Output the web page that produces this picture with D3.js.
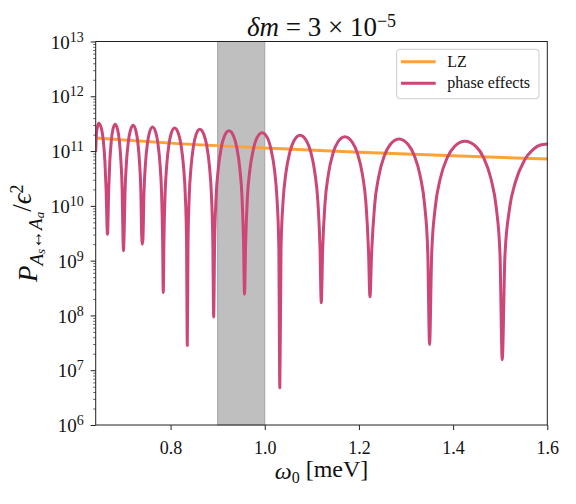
<!DOCTYPE html>
<html>
<head>
<meta charset="utf-8">
<script src="https://cdn.jsdelivr.net/npm/d3@7"></script>
<style>
  body { margin: 0; background: #fff; }
  svg text { font-family: "Liberation Serif", "DejaVu Serif", serif; fill: #111; }
</style>
</head>
<body>
<div id="chart"></div>
<script>
// LZ estimate (omega in meV, exponent of P / eps^2)
var lzOmega = [0.641, 0.8, 1.0, 1.2, 1.4, 1.6];
var lzExp   = [11.24, 11.145, 11.055, 10.98, 10.915, 10.855];

// phase effects curve (exponents of 10)
var phaseOmega = [
  0.641, 0.6425, 0.6450, 0.6477, 0.6532, 0.6569, 0.6605, 0.6631, 0.6660,
  0.6686, 0.6709, 0.6742, 0.6774, 0.6823, 0.6876, 0.6912, 0.6947, 0.6972, 0.6989, 0.7000,
  0.7012, 0.7033, 0.7062, 0.7103, 0.7144, 0.7206, 0.7264, 0.7303, 0.7342, 0.7369, 0.7388, 0.7400,
  0.7413, 0.7435, 0.7465, 0.7509, 0.7552, 0.7617, 0.7685, 0.7731, 0.7777, 0.7809, 0.7831, 0.7845,
  0.7859, 0.7883, 0.7917, 0.7965, 0.8013, 0.8085, 0.8166, 0.8220, 0.8274, 0.8312, 0.8339, 0.8355,
  0.8371, 0.8397, 0.8435, 0.8488, 0.8541, 0.8620, 0.8708, 0.8768, 0.8827, 0.8868, 0.8897, 0.8915,
  0.8935, 0.8967, 0.9013, 0.9078, 0.9143, 0.9240, 0.9339, 0.9405, 0.9471, 0.9517, 0.9550, 0.9570,
  0.9593, 0.9630, 0.9683, 0.9758, 0.9833, 0.9945, 1.0057, 1.0133, 1.0208, 1.0260, 1.0298, 1.0320,
  1.0346, 1.0389, 1.0449, 1.0535, 1.0621, 1.0750, 1.0885, 1.0975, 1.1065, 1.1128, 1.1173, 1.1200,
  1.1230, 1.1280, 1.1350, 1.1450, 1.1550, 1.1700, 1.1860, 1.1967, 1.2074, 1.2149, 1.2202, 1.2234,
  1.2271, 1.2333, 1.2419, 1.2542, 1.2665, 1.2850, 1.3045, 1.3175, 1.3305, 1.3396, 1.3461, 1.3500,
  1.3545, 1.3620, 1.3725, 1.3875, 1.4025, 1.4250, 1.4488, 1.4647, 1.4805, 1.4916, 1.4995, 1.5043,
  1.5100, 1.5193, 1.5325, 1.5513, 1.5701, 1.5851, 1.6000
];
var phaseExp = [
  11.00, 11.30, 11.45, 11.51, 11.41, 11.21, 10.82, 10.30, 9.48,
  10.28, 10.80, 11.19, 11.39, 11.49, 11.39, 11.19, 10.80, 10.28, 9.44, 9.18,
  9.42, 10.26, 10.78, 11.17, 11.37, 11.47, 11.37, 11.17, 10.78, 10.26, 9.42, 9.30,
  9.39, 10.23, 10.75, 11.14, 11.34, 11.44, 11.34, 11.14, 10.75, 10.23, 9.39, 8.42,
  9.37, 10.21, 10.73, 11.12, 11.32, 11.42, 11.32, 11.12, 10.73, 10.21, 9.37, 7.45,
  9.35, 10.19, 10.71, 11.10, 11.30, 11.40, 11.30, 11.10, 10.71, 10.19, 9.35, 7.97,
  9.32, 10.16, 10.68, 11.07, 11.27, 11.37, 11.27, 11.07, 10.68, 10.16, 9.32, 8.39,
  9.28, 10.13, 10.65, 11.03, 11.24, 11.335, 11.24, 11.03, 10.65, 10.13, 9.28, 6.68,
  9.24, 10.08, 10.60, 10.99, 11.19, 11.29, 11.19, 10.99, 10.60, 10.08, 9.24, 8.23,
  9.21, 10.05, 10.57, 10.96, 11.16, 11.26, 11.16, 10.96, 10.57, 10.05, 9.21, 8.34,
  9.17, 10.01, 10.53, 10.92, 11.12, 11.22, 11.12, 10.92, 10.53, 10.01, 9.17, 7.47,
  9.13, 9.97, 10.49, 10.88, 11.08, 11.18, 11.08, 10.88, 10.49, 9.97, 9.13, 7.19,
  9.08, 9.92, 10.44, 10.83, 11.03, 11.11, 11.13
];

var bandRange = [0.9, 1.0];
var xTicks = [0.8, 1.0, 1.2, 1.4, 1.6];
var yTickExp = [6, 7, 8, 9, 10, 11, 12, 13];
var seriesNames = ["LZ", "phase effects"];
var colors = ["#fba336", "#cc4677"];

var W = 576, H = 504;
var pL = 95.7, pR = 547.3, pT = 41.5, pB = 425;

var svg = d3.select("#chart").append("svg")
    .attr("width", W).attr("height", H);

var x = d3.scaleLinear().domain([0.641, 1.6]).range([pL, pR]);
var y = d3.scaleLog().domain([1e6, 1e13]).range([pB, pT]);

svg.append("clipPath").attr("id", "clip")
  .append("rect").attr("x", pL).attr("y", pT)
  .attr("width", pR - pL).attr("height", pB - pT);

// shaded band
svg.append("rect")
    .attr("x", x(bandRange[0])).attr("y", pT)
    .attr("width", x(bandRange[1]) - x(bandRange[0]))
    .attr("height", pB - pT)
    .attr("fill", "#bfbfbf")
    .attr("stroke", "#a3a3a3").attr("stroke-width", 1);

var lzData = lzOmega.map(function(w, i) { return {w: w, p: Math.pow(10, lzExp[i])}; });
var phData = phaseOmega.map(function(w, i) { return {w: w, p: Math.pow(10, phaseExp[i])}; });

var line = d3.line()
    .curve(d3.curveMonotoneX)
    .x(function(d) { return x(d.w); })
    .y(function(d) { return y(d.p); });

var plot = svg.append("g").attr("clip-path", "url(#clip)");

plot.append("path").datum(lzData)
    .attr("d", line).attr("fill", "none")
    .attr("stroke", colors[0]).attr("stroke-width", 3);

plot.append("path").datum(phData)
    .attr("d", line).attr("fill", "none")
    .attr("stroke", colors[1]).attr("stroke-width", 3)
    .attr("stroke-linejoin", "round").attr("stroke-linecap", "round");

// x axis
var gx = svg.append("g")
    .attr("transform", "translate(0," + pB + ")")
    .call(d3.axisBottom(x).tickValues(xTicks).tickFormat(d3.format(".1f"))
      .tickSize(5).tickSizeOuter(0).tickPadding(11));
gx.select(".domain").remove();
gx.selectAll("text").style("font-size", "18px").attr("fill", "#111");
gx.selectAll("line").attr("stroke", "#222");

// y axis minor ticks
var minors = [];
for (var e = 6; e < 13; e++) for (var m = 2; m < 10; m++) minors.push(m * Math.pow(10, e));
var gym = svg.append("g")
    .attr("transform", "translate(" + pL + ",0)")
    .call(d3.axisLeft(y).tickValues(minors).tickFormat("").tickSize(2.5).tickSizeOuter(0));
gym.select(".domain").remove();
gym.selectAll("line").attr("stroke", "#222").attr("stroke-width", 0.7);

// y axis majors
var gy = svg.append("g")
    .attr("transform", "translate(" + pL + ",0)")
    .call(d3.axisLeft(y).tickValues(yTickExp.map(function(e) { return Math.pow(10, e); }))
      .tickSize(5).tickSizeOuter(0).tickPadding(7).tickFormat(""));
gy.select(".domain").remove();
gy.selectAll("line").attr("stroke", "#222");
gy.selectAll(".tick").each(function(d, i) {
  var t = d3.select(this).select("text")
      .attr("dy", "0.35em").style("font-size", "19px").attr("fill", "#111");
  t.append("tspan").text("10");
  t.append("tspan").text(yTickExp[i]).attr("dy", "-0.5em").style("font-size", "14px");
});

// frame
svg.append("rect")
    .attr("x", pL).attr("y", pT)
    .attr("width", pR - pL).attr("height", pB - pT)
    .attr("fill", "none").attr("stroke", "#222").attr("stroke-width", 1);

// title
var title = svg.append("text")
    .attr("x", (pL + pR) / 2).attr("y", 36)
    .attr("text-anchor", "middle").style("font-size", "27px");
title.append("tspan").text("δm").style("font-style", "italic");
title.append("tspan").text(" = 3 × 10");
title.append("tspan").text("−5").attr("dy", "-0.5em").style("font-size", "18px");

// x label
var xl = svg.append("text")
    .attr("x", (pL + pR) / 2).attr("y", 479)
    .attr("text-anchor", "middle").style("font-size", "24px");
xl.append("tspan").text("ω").style("font-style", "italic");
xl.append("tspan").text("0").attr("dy", "0.25em").style("font-size", "16px");
xl.append("tspan").text(" [meV]").attr("dy", "-0.25em");

// y label
var yl = svg.append("text")
    .attr("transform", "translate(37," + ((pT + pB) / 2) + ") rotate(-90)")
    .attr("text-anchor", "middle").style("font-size", "27px");
yl.append("tspan").text("P").style("font-style", "italic");
yl.append("tspan").text("A").attr("dy", "0.3em").style("font-size", "19px").style("font-style", "italic");
yl.append("tspan").text("s").attr("dy", "0.2em").style("font-size", "13px").style("font-style", "italic");
yl.append("tspan").text("↔").attr("dy", "-0.2em").style("font-size", "19px");
yl.append("tspan").text("A").style("font-size", "19px").style("font-style", "italic");
yl.append("tspan").text("a").attr("dy", "0.2em").style("font-size", "13px").style("font-style", "italic");
yl.append("tspan").text("/").attr("dy", "-0.5em");
yl.append("tspan").text("ϵ").style("font-style", "italic");
yl.append("tspan").text("2").attr("dy", "-0.45em").style("font-size", "18px");

// legend
var lg = svg.append("g");
lg.append("rect")
    .attr("x", 396.7).attr("y", 49.3).attr("width", 142.3).attr("height", 49.4)
    .attr("rx", 3).attr("fill", "#fff").attr("fill-opacity", 0.8)
    .attr("stroke", "#cccccc").attr("stroke-width", 1);
seriesNames.forEach(function(name, i) {
  var yy = 61.7 + i * 21.6;
  lg.append("line")
      .attr("x1", 401).attr("x2", 435.7).attr("y1", yy).attr("y2", yy)
      .attr("stroke", colors[i]).attr("stroke-width", 3);
  lg.append("text")
      .attr("x", 447.3).attr("y", yy + 5)
      .style("font-size", "16px").text(name);
});
</script>
</body>
</html>
